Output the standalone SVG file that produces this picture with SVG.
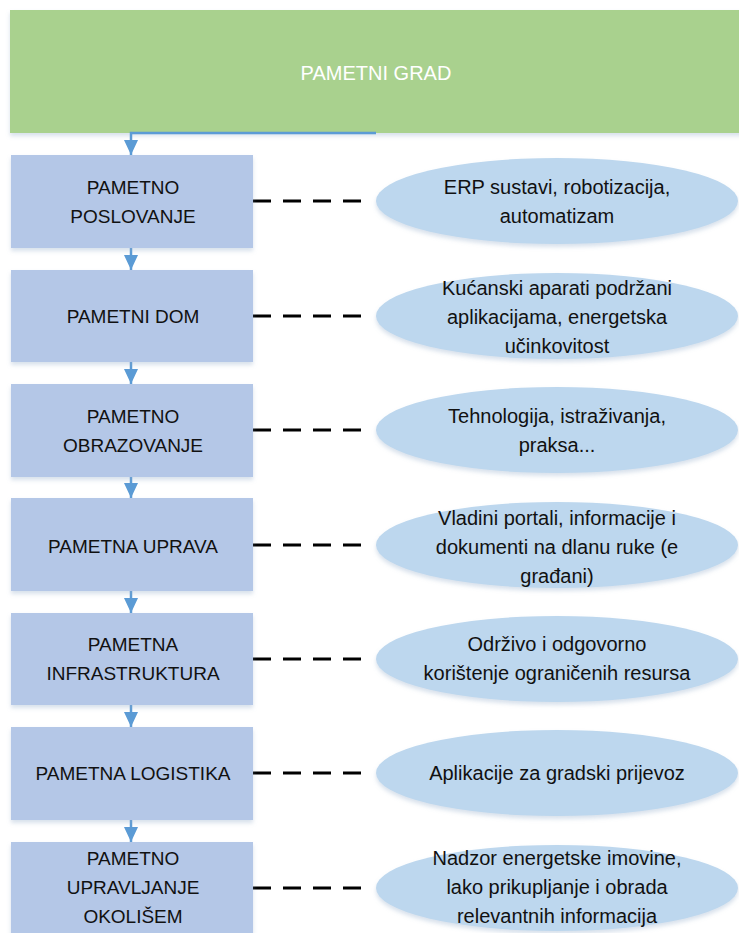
<svg xmlns="http://www.w3.org/2000/svg" width="739" height="933" viewBox="0 0 739 933">
<style>
.box{fill:#B4C7E7;filter:url(#sh)}
.ell{fill:#BDD7EE;filter:url(#sh)}
.t{font-family:"Liberation Sans",Arial,sans-serif;font-size:19px;fill:#111;text-anchor:middle}
.e{font-family:"Liberation Sans",Arial,sans-serif;font-size:20px;fill:#111;text-anchor:middle}
.dash{stroke:#000;stroke-width:3;stroke-dasharray:18 12;fill:none}
.arr{stroke:#5B9BD5;stroke-width:2.5;fill:none;marker-end:url(#ah)}
</style>
<defs>
<marker id="ah" markerWidth="16" markerHeight="16" refX="15" refY="7" orient="auto" markerUnits="userSpaceOnUse">
<path d="M0,0 L15,7 L0,14 Z" fill="#5B9BD5"/>
</marker>
<filter id="sh" x="-10%" y="-10%" width="120%" height="130%">
<feDropShadow dx="0" dy="3" stdDeviation="2" flood-color="#8fa8c8" flood-opacity="0.35"/>
</filter>
</defs>
<rect width="739" height="933" fill="#fff"/>
<g id="grad">
<rect x="10" y="10" width="740" height="123" fill="#A9D18E" filter="url(#sh)"/>
<text x="376" y="80" style="font-family:'Liberation Sans',Arial,sans-serif;font-size:20px;fill:#fff;text-anchor:middle">PAMETNI GRAD</text>
</g>
<g id="connectors">
<path class="arr" d="M376,133 H131 V155"/>
<path class="arr" d="M131,248 V270"/>
<path class="arr" d="M131,362 V384"/>
<path class="arr" d="M131,477 V498"/>
<path class="arr" d="M131,591 V613"/>
<path class="arr" d="M131,705 V727"/>
<path class="arr" d="M131,820 V842"/>
<path class="dash" d="M253,201 H370"/>
<path class="dash" d="M253,316 H370"/>
<path class="dash" d="M253,430 H370"/>
<path class="dash" d="M253,545 H370"/>
<path class="dash" d="M253,659 H370"/>
<path class="dash" d="M253,773 H370"/>
<path class="dash" d="M253,888 H370"/>
</g>
<g id="n1">
<rect class="box" x="11" y="155" width="242" height="93"/>
<text class="t" x="133" y="194">PAMETNO</text><text class="t" x="133" y="223">POSLOVANJE</text>
</g>
<g id="e1">
<ellipse class="ell" cx="557" cy="201" rx="181" ry="43"/>
<text class="e" x="557" y="194">ERP sustavi, robotizacija,</text><text class="e" x="557" y="223">automatizam</text>
</g>
<g id="n2">
<rect class="box" x="11" y="270" width="242" height="92"/>
<text class="t" x="133" y="323">PAMETNI DOM</text>
</g>
<g id="e2">
<ellipse class="ell" cx="557" cy="316" rx="181" ry="43"/>
<text class="e" x="557" y="295">Kućanski aparati podržani</text><text class="e" x="557" y="324">aplikacijama, energetska</text><text class="e" x="557" y="353">učinkovitost</text>
</g>
<g id="n3">
<rect class="box" x="11" y="384" width="242" height="93"/>
<text class="t" x="133" y="423">PAMETNO</text><text class="t" x="133" y="452">OBRAZOVANJE</text>
</g>
<g id="e3">
<ellipse class="ell" cx="557" cy="430" rx="181" ry="43"/>
<text class="e" x="557" y="423">Tehnologija, istraživanja,</text><text class="e" x="557" y="452">praksa...</text>
</g>
<g id="n4">
<rect class="box" x="11" y="498" width="242" height="93"/>
<text class="t" x="133" y="553">PAMETNA UPRAVA</text>
</g>
<g id="e4">
<ellipse class="ell" cx="557" cy="545" rx="181" ry="43"/>
<text class="e" x="557" y="525">Vladini portali, informacije i</text><text class="e" x="557" y="554">dokumenti na dlanu ruke (e</text><text class="e" x="557" y="583">građani)</text>
</g>
<g id="n5">
<rect class="box" x="11" y="613" width="242" height="92"/>
<text class="t" x="133" y="651">PAMETNA</text><text class="t" x="133" y="680">INFRASTRUKTURA</text>
</g>
<g id="e5">
<ellipse class="ell" cx="557" cy="659" rx="181" ry="43"/>
<text class="e" x="557" y="651">Održivo i odgovorno</text><text class="e" x="557" y="680">korištenje ograničenih resursa</text>
</g>
<g id="n6">
<rect class="box" x="11" y="727" width="242" height="93"/>
<text class="t" x="133" y="780">PAMETNA LOGISTIKA</text>
</g>
<g id="e6">
<ellipse class="ell" cx="557" cy="773" rx="181" ry="43"/>
<text class="e" x="557" y="780">Aplikacije za gradski prijevoz</text>
</g>
<g id="n7">
<rect class="box" x="11" y="842" width="242" height="93"/>
<text class="t" x="133" y="865">PAMETNO</text><text class="t" x="133" y="894">UPRAVLJANJE</text><text class="t" x="133" y="923">OKOLIŠEM</text>
</g>
<g id="e7">
<ellipse class="ell" cx="557" cy="888" rx="181" ry="43"/>
<text class="e" x="557" y="865">Nadzor energetske imovine,</text><text class="e" x="557" y="894">lako prikupljanje i obrada</text><text class="e" x="557" y="923">relevantnih informacija</text>
</g>
</svg>
